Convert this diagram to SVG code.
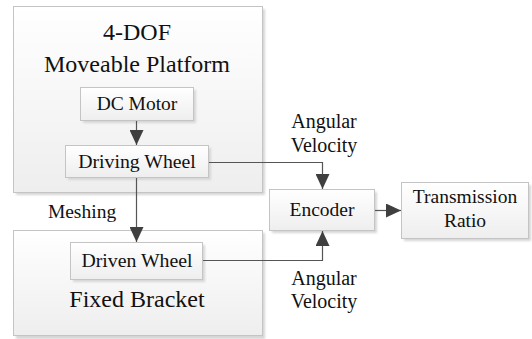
<svg xmlns="http://www.w3.org/2000/svg" width="532" height="339" viewBox="0 0 532 339">
  <defs>
    <linearGradient id="boxFill" x1="0" y1="0" x2="0" y2="1">
      <stop offset="0" stop-color="#ffffff"/>
      <stop offset="1" stop-color="#eeeeee"/>
    </linearGradient>
    <filter id="shadow" x="-10%" y="-10%" width="130%" height="130%">
      <feGaussianBlur stdDeviation="0.8"/>
    </filter>
    <marker id="arrow" viewBox="0 0 15 14" refX="15" refY="7" markerWidth="15" markerHeight="14" markerUnits="userSpaceOnUse" orient="auto">
      <path d="M0,0 L15,7 L0,14 z" fill="#3f3f3f"/>
    </marker>
  </defs>
  <style>
    .box { fill: url(#boxFill); stroke: #c4c4c4; stroke-width: 1; }
    .shade { fill: #d6d6d6; filter: url(#shadow); }
    .label { font-family: "Liberation Serif", "Times New Roman", serif; fill: #111111; text-anchor: middle; }
    .wire { fill: none; stroke: #555555; stroke-width: 1.2; }
    .arrowed { marker-end: url(#arrow); }
  </style>
  <rect width="532" height="339" fill="#ffffff"/>

  <!-- outer container: moveable platform -->
  <g id="platform">
    <rect class="shade" x="16" y="9" width="249" height="186"/>
    <rect class="box" x="13.5" y="6.5" width="249" height="186"/>
    <text class="label" x="137" y="40" font-size="24">4-DOF</text>
    <text class="label" x="137" y="72" font-size="24">Moveable Platform</text>
  </g>

  <!-- outer container: fixed bracket -->
  <g id="bracket">
    <rect class="shade" x="16" y="233" width="249" height="106"/>
    <rect class="box" x="13.5" y="230.5" width="249" height="105"/>
    <text class="label" x="137" y="307" font-size="24">Fixed Bracket</text>
  </g>

  <g id="dc-motor">
    <rect class="shade" x="83" y="90" width="113" height="33"/>
    <rect class="box" x="80.5" y="87.5" width="113" height="33"/>
    <text class="label" x="137" y="110" font-size="19.5">DC Motor</text>
  </g>

  <g id="driving-wheel">
    <rect class="shade" x="68" y="148" width="143" height="32"/>
    <rect class="box" x="65.5" y="145.5" width="143" height="32"/>
    <text class="label" x="137" y="168" font-size="19.8">Driving Wheel</text>
  </g>

  <g id="driven-wheel">
    <rect class="shade" x="73" y="245" width="132" height="37"/>
    <rect class="box" x="70.5" y="242.5" width="132" height="37"/>
    <text class="label" x="137" y="267" font-size="19.8">Driven Wheel</text>
  </g>

  <g id="encoder">
    <rect class="shade" x="272" y="192" width="105" height="41"/>
    <rect class="box" x="269.5" y="189.5" width="105" height="41"/>
    <text class="label" x="322" y="216" font-size="19.5">Encoder</text>
  </g>

  <g id="transmission-ratio">
    <rect class="shade" x="404" y="185" width="127" height="56"/>
    <rect class="box" x="401.5" y="182.5" width="127" height="56"/>
    <text class="label" x="465" y="203" font-size="19.5">Transmission</text>
    <text class="label" x="465" y="227" font-size="19.5">Ratio</text>
  </g>

  <g id="connectors">
    <path class="wire arrowed" d="M136.5,121 V145"/>
    <path class="wire arrowed" d="M136.5,178 V242"/>
    <path class="wire arrowed" d="M209,162.5 H322.5 V189"/>
    <path class="wire arrowed" d="M203,260.5 H322.5 V231"/>
    <path class="wire arrowed" d="M375,210.5 H401"/>
    <text class="label" x="82" y="218" font-size="19.5">Meshing</text>
    <text class="label" x="324" y="128" font-size="20">Angular</text>
    <text class="label" x="324" y="152" font-size="20">Velocity</text>
    <text class="label" x="324" y="285" font-size="20">Angular</text>
    <text class="label" x="324" y="308" font-size="20">Velocity</text>
  </g>
</svg>
